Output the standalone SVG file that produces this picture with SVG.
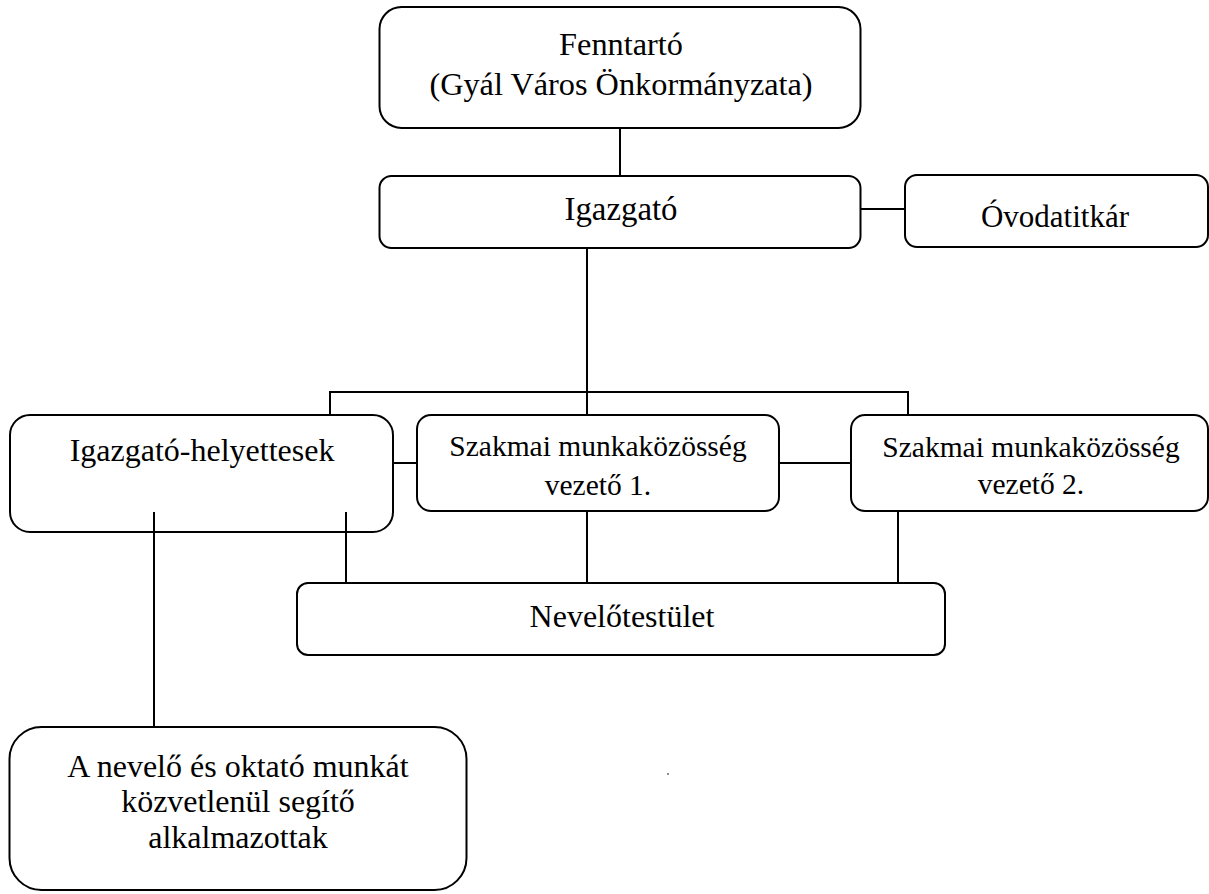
<svg xmlns="http://www.w3.org/2000/svg" width="1209" height="894" viewBox="0 0 1209 894">
<style>
.box{fill:#fff;stroke:#000;stroke-width:2}
.lbl{font-family:"Liberation Serif","Times New Roman",serif;font-size:32px;fill:#000;text-anchor:middle}
.sm{font-size:29.5px}
.con{stroke:#000;stroke-width:2;fill:none}
</style>
<rect width="1209" height="894" fill="#fff"/>
<g id="connectors">
<line class="con" x1="620" y1="128" x2="620" y2="176"/>
<line class="con" x1="860" y1="209" x2="905" y2="209"/>
<line class="con" x1="587" y1="248" x2="587" y2="415"/>
<polyline class="con" points="330,415 330,392 908,392 908,415"/>
<line class="con" x1="393" y1="463" x2="417" y2="463"/>
<line class="con" x1="779" y1="463" x2="851" y2="463"/>
<line class="con" x1="587" y1="511" x2="587" y2="583"/>
<line class="con" x1="898" y1="511" x2="898" y2="583"/>
<line class="con" x1="346" y1="512" x2="346" y2="583"/>
<line class="con" x1="154" y1="512" x2="154" y2="727"/>
</g>
<g id="fenntarto">
<rect class="box" x="379.5" y="7" width="481" height="121" rx="22"/>
<text class="lbl" x="621" y="55" style="font-size:32.3px">Fenntartó</text>
<text class="lbl" x="621" y="95" style="font-size:32.3px">(Gyál Város Önkormányzata)</text>
</g>
<g id="igazgato">
<rect class="box" x="379.5" y="176" width="481" height="72" rx="12"/>
<text class="lbl" x="621" y="219.5" style="font-size:32.8px">Igazgató</text>
</g>
<g id="ovodatitkar">
<rect class="box" x="905" y="175" width="303" height="72" rx="12"/>
<text class="lbl" x="1055" y="227" style="font-size:31px">Óvodatitkár</text>
</g>
<g id="helyettesek">
<rect class="box" x="10" y="415" width="383" height="117" rx="20"/>
<line class="con" x1="154" y1="512" x2="154" y2="532"/>
<line class="con" x1="346" y1="512" x2="346" y2="532"/>
<text class="lbl" x="202" y="461">Igazgató-helyettesek</text>
</g>
<g id="szakmai1">
<rect class="box" x="417" y="415" width="362" height="96" rx="14"/>
<text class="lbl sm" x="598" y="456">Szakmai munkaközösség</text>
<text class="lbl sm" x="598" y="495">vezető 1.</text>
</g>
<g id="szakmai2">
<rect class="box" x="851" y="415" width="357" height="96" rx="14"/>
<text class="lbl sm" x="1031" y="457">Szakmai munkaközösség</text>
<text class="lbl sm" x="1031" y="494">vezető 2.</text>
</g>
<g id="nevelotestulet">
<rect class="box" x="297" y="583" width="648" height="72" rx="11"/>
<text class="lbl" x="622" y="627">Nevelőtestület</text>
</g>
<g id="alkalmazottak">
<rect class="box" x="9.5" y="727" width="457" height="163" rx="32"/>
<text class="lbl" x="238" y="777">A nevelő és oktató munkát</text>
<text class="lbl" x="238" y="812">közvetlenül segítő</text>
<text class="lbl" x="238" y="848">alkalmazottak</text>
</g>
<circle cx="668" cy="774" r="0.9" fill="#555"/>
</svg>
